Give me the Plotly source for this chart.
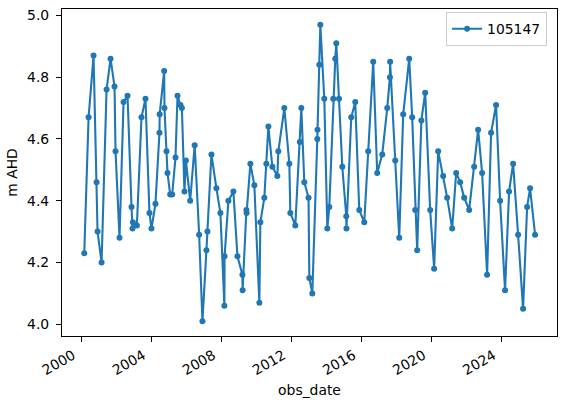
import plotly.graph_objects as go

obs_date = [
    "2000-03-09", "2000-06-07", "2000-09-19", "2000-11-21", "2000-12-11",
    "2001-03-05", "2001-06-17", "2001-09-08", "2001-11-30", "2001-12-21",
    "2002-03-14", "2002-06-06", "2002-08-28", "2002-11-19", "2002-12-10",
    "2002-12-18", "2003-03-11", "2003-06-15", "2003-09-06", "2003-11-28",
    "2004-01-09", "2004-04-01", "2004-06-24", "2004-06-28", "2004-09-30",
    "2004-10-06", "2004-11-17", "2004-12-08", "2005-02-02", "2005-03-16",
    "2005-05-24", "2005-07-05", "2005-09-05", "2005-10-04", "2005-11-27",
    "2005-12-27", "2006-03-26", "2006-06-28", "2006-09-29", "2006-12-07",
    "2007-02-28", "2007-03-21", "2007-06-12", "2007-09-24", "2007-12-16",
    "2008-03-08", "2008-03-12", "2008-05-31", "2008-09-12", "2008-12-05",
    "2009-03-19", "2009-03-23", "2009-06-10", "2009-06-14", "2009-09-01",
    "2009-11-23", "2010-03-07", "2010-03-28", "2010-06-19", "2010-07-31",
    "2010-09-11", "2010-12-03", "2011-03-17", "2011-04-07", "2011-08-10",
    "2011-11-22", "2011-12-13", "2012-03-26", "2012-06-28", "2012-07-29",
    "2012-09-29", "2012-12-26", "2013-01-12", "2013-03-15", "2013-06-27",
    "2013-07-01", "2013-08-08", "2013-08-29", "2013-11-20", "2014-01-22",
    "2014-03-04", "2014-05-26", "2014-07-07", "2014-07-28", "2014-09-22",
    "2014-11-30", "2015-02-21", "2015-02-25", "2015-06-05", "2015-08-27",
    "2015-11-19", "2016-03-02", "2016-05-24", "2016-09-05", "2016-11-27",
    "2017-03-12", "2017-06-24", "2017-08-19", "2017-08-23", "2017-12-08",
    "2018-03-01", "2018-05-23", "2018-09-25", "2018-11-26", "2019-01-28",
    "2019-03-10", "2019-06-06", "2019-08-24", "2019-12-06", "2020-02-27",
    "2020-05-21", "2020-09-02", "2020-11-24", "2021-03-09", "2021-05-31",
    "2021-08-22", "2021-11-14", "2022-02-26", "2022-06-10", "2022-09-01",
    "2022-11-23", "2023-03-07", "2023-05-29", "2023-09-10", "2023-12-03",
    "2024-03-15", "2024-06-07", "2024-08-30", "2024-12-12", "2025-03-26",
    "2025-06-18", "2025-08-19", "2025-12-01",
]

level_m_ahd = [
    4.23, 4.67, 4.87, 4.46, 4.30,
    4.20, 4.76, 4.86, 4.77, 4.56,
    4.28, 4.72, 4.74, 4.38, 4.31,
    4.33, 4.32, 4.67, 4.73, 4.36,
    4.31, 4.39, 4.62, 4.68, 4.82,
    4.70, 4.56, 4.49, 4.42, 4.42,
    4.54, 4.74, 4.71, 4.70, 4.43,
    4.53, 4.40, 4.58, 4.29, 4.01,
    4.24, 4.30, 4.55, 4.44, 4.36,
    4.06, 4.22, 4.40, 4.43, 4.22,
    4.16, 4.11, 4.37, 4.36, 4.52,
    4.45, 4.07, 4.33, 4.41, 4.52,
    4.64, 4.51, 4.48, 4.56, 4.70,
    4.52, 4.36, 4.32, 4.59, 4.70,
    4.46, 4.41, 4.15, 4.10, 4.60,
    4.63, 4.84, 4.97, 4.73, 4.31,
    4.38, 4.73, 4.86, 4.91, 4.73,
    4.51, 4.35, 4.31, 4.67, 4.72,
    4.37, 4.33, 4.56, 4.85, 4.49,
    4.55, 4.70, 4.80, 4.85, 4.53,
    4.28, 4.68, 4.86, 4.67, 4.37,
    4.24, 4.66, 4.75, 4.37, 4.18,
    4.56, 4.48, 4.41, 4.31, 4.49,
    4.46, 4.41, 4.37, 4.51, 4.63,
    4.49, 4.16, 4.62, 4.71, 4.40,
    4.11, 4.43, 4.52, 4.29, 4.05,
    4.38, 4.44, 4.29,
]

series_name = "105147"
x_tick_years = [2000, 2004, 2008, 2012, 2016, 2020, 2024]
y_ticks = [4.0, 4.2, 4.4, 4.6, 4.8, 5.0]

color = "#1f77b4"
fsize = 13.9
font = dict(family="DejaVu Sans", size=fsize, color="black")

fig = go.Figure()
fig.add_trace(go.Scatter(
    x=obs_date, y=level_m_ahd, mode="lines+markers", name=series_name,
    line=dict(color=color, width=2.1),
    marker=dict(color=color, size=6),
))

fig.update_layout(
    width=567, height=405, autosize=False,
    margin=dict(l=62, r=10, t=9, b=69),
    paper_bgcolor="white", plot_bgcolor="white",
    font=font,
    showlegend=True,
    legend=dict(
        x=0.98, xanchor="right", y=0.99, yanchor="top",
        bgcolor="rgba(255,255,255,0.8)", bordercolor="#cccccc", borderwidth=1,
        font=dict(family="DejaVu Sans", size=fsize, color="black"),
    ),
)

fig.update_xaxes(
    range=["1998-12-01", "2027-03-03"],
    tickvals=[f"{y}-01-01" for y in x_tick_years],
    ticktext=[str(y) for y in x_tick_years],
    tickangle=-30,
    ticklabelshift=-8,
    tickfont=dict(family="DejaVu Sans", size=fsize, color="black"),
    ticks="outside", ticklen=5, tickwidth=1.1, tickcolor="black",
    showline=True, linecolor="black", linewidth=1.1, mirror=True,
    showgrid=False, zeroline=False,
    title=dict(text="obs_date", standoff=8,
               font=dict(family="DejaVu Sans", size=fsize, color="black")),
    automargin=False,
)
fig.update_yaxes(
    range=[3.962, 5.0208],
    tickvals=y_ticks,
    ticktext=[f"{v:.1f}" for v in y_ticks],
    tickfont=dict(family="DejaVu Sans", size=fsize, color="black"),
    ticklabelstandoff=4,
    ticks="outside", ticklen=5, tickwidth=1.1, tickcolor="black",
    showline=True, linecolor="black", linewidth=1.1, mirror=True,
    showgrid=False, zeroline=False,
    title=dict(text="m AHD", standoff=6,
               font=dict(family="DejaVu Sans", size=fsize, color="black")),
    automargin=False,
)

fig.write_html("out.html", config={"displayModeBar": False},
               post_script="document.body.style.margin='0px';")
